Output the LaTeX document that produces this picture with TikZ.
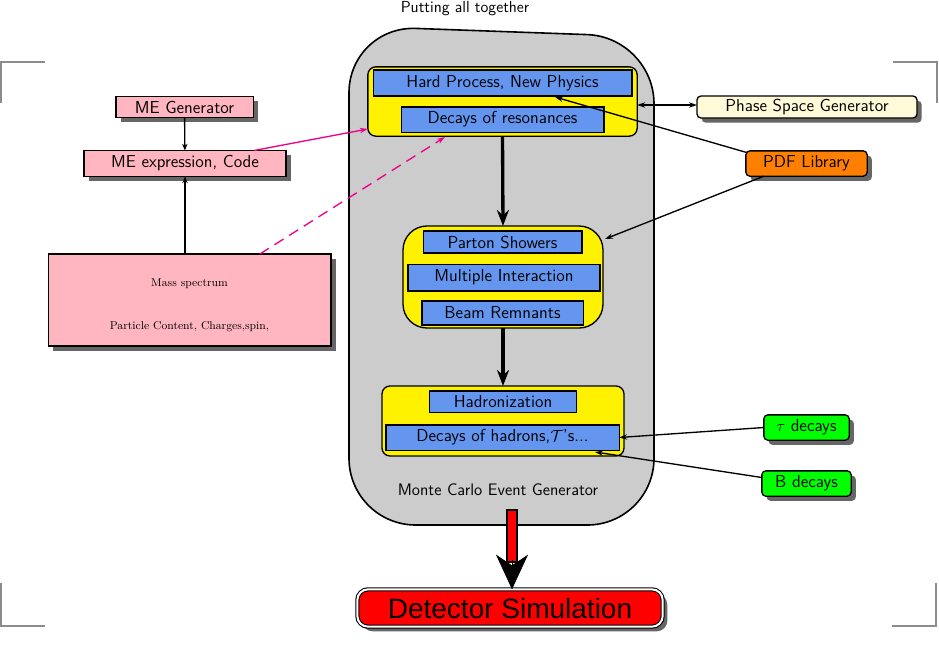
\documentclass[tikz,border=0pt]{standalone}
\usepackage{fontspec}
\newfontfamily\helv{Liberation Sans}
\usetikzlibrary{shadows,arrows.meta,calc}
\begin{document}
\begin{tikzpicture}[x=0.75pt,y=-0.75pt,
  every node/.style={inner sep=0pt,outer sep=0pt,font=\sffamily\fontsize{13}{15}\selectfont},
  blue/.style={draw,line width=1pt,fill=cyan!20!blue!40!white,fill=blue!35!cyan!50!white},
  bbox/.style={draw,line width=1pt,fill={rgb,255:red,100;green,150;blue,240}},
  ybox/.style={draw,line width=1pt,fill=yellow,rounded corners=6pt},
  shad/.style={drop shadow={shadow xshift=3.5pt,shadow yshift=-3.5pt,fill=black!75,opacity=0.8}},
  pink/.style={draw,line width=1pt,fill={rgb,255:red,255;green,182;blue,193},shad},
  side/.style={draw,line width=1pt,rounded corners=3pt,shad},
  barrow/.style={blue,line width=1pt,-{Stealth[length=6pt,width=4pt]}},
  corner/.style={black!45,line width=0.8pt}]
\useasboundingbox (0,0) rectangle (939,658);
% corner marks
\draw[corner] (45,62)--(1,62)--(1,103);
\draw[corner] (893,62)--(937,62)--(937,103);
\draw[corner] (1,583)--(1,626)--(45,626);
\draw[corner] (892,626)--(936,626)--(936,583);
\node (title) at (465,9) {\fontsize{12}{14}\selectfont Putting all together};
% big grey box
\draw[line width=1.2pt,fill=black!20,rounded corners=50pt] (349,525)--(349,26)--(654,37)--(654,525)--cycle;
\node (mc) at (498,490) {\fontsize{12.5}{14}\selectfont Monte Carlo Event Generator};
% yellow boxes
\node[ybox,minimum width=202pt,minimum height=52pt] (Y1) at (502.5,101.5) {};
\node[ybox,rounded corners=18pt,minimum width=150pt,minimum height=76.5pt] (Y2) at (503,277) {};
\node[ybox,minimum width=181.5pt,minimum height=52.5pt] (Y3) at (503,421) {};
% blue boxes
\node[bbox,minimum width=194pt,minimum height=19.5pt] (HP) at (502.5,83) {Hard Process, New Physics};
\node[bbox,minimum width=152pt,minimum height=19pt] (DR) at (502.5,119.5) {Decays of resonances};
\node[bbox,minimum width=119pt,minimum height=16.5pt] (PS) at (502.5,242) {Parton Showers};
\node[bbox,minimum width=144pt,minimum height=20pt] (MI) at (504,277.5) {Multiple Interaction};
\node[bbox,minimum width=121pt,minimum height=18pt] (BR) at (502.5,313) {Beam Remnants};
\node[bbox,minimum width=110pt,minimum height=16pt] (HD) at (503,401.5) {Hadronization};
\node[bbox,minimum width=175pt,minimum height=19pt] (DH) at (502.5,437.5) {Decays of hadrons,$\mathcal{T}$'s...};
% main arrows
\draw[line width=2.5pt,-{Stealth[length=12pt,width=9pt]}] (Y1.south) -- (Y2.north);
\draw[line width=2.5pt,-{Stealth[length=12pt,width=9pt]}] (Y2.south) -- (Y3.north);
% detector
\node[draw,line width=0.8pt,fill=red,rounded corners=8pt,double=white,double distance=1.5pt,minimum width=229pt,minimum height=28pt,shad] (DS) at (510,608) {\helv\fontsize{21}{24}\selectfont Detector Simulation};
\coordinate (rs) at (512,510);
\fill[red,draw=black,line width=0.8pt] (507,510) rectangle (517,562);
\draw[line width=0.5pt,-{Stealth[length=26pt,width=24pt,inset=8pt]}] (512,560) -- (DS.north -| rs);
% left side
\node[pink,minimum width=103pt,minimum height=16pt] (MEG) at (184.5,107) {ME Generator};
\node[pink,minimum width=151.5pt,minimum height=19.5pt] (MEE) at (185,163.5) {ME expression, Code};
\node[pink,minimum width=212pt,minimum height=69pt,font=\rmfamily\fontsize{8.5}{10}\selectfont] (MS) at (189.5,300) {};
\node[font=\rmfamily\fontsize{8.5}{10}\selectfont] (ms1) at (189.5,284) {Mass spectrum};
\node[font=\rmfamily\fontsize{8.5}{10}\selectfont] (ms2) at (189.5,327) {Particle Content, Charges,spin,};
\draw[line width=1pt,-{Stealth[length=5pt,width=4pt]}] (MEG) -- (MEE);
\draw[line width=1pt,-{Stealth[length=5pt,width=4pt]}] (MS.north -| MEE) -- (MEE.south);
\draw[magenta,line width=1pt,-{Stealth[length=6pt,width=4pt]}] (MEE.north east)++(-32,0) -- (Y1.west |- 0,129);
\draw[magenta,line width=1pt,dashed,dash pattern=on 8pt off 5pt,-{Stealth[length=6pt,width=4pt]}] (MS.north east)++(-71,0) -- (445,137);
% right side
\node[side,fill={rgb,255:red,255;green,250;blue,215},minimum width=165pt,minimum height=16.5pt] (PSG) at (807,107) {Phase Space Generator};
\node[side,fill=orange,minimum width=91pt,minimum height=19pt] (PDF) at (806.5,163.5) {PDF Library};
\node[side,fill=green,minimum width=64pt,minimum height=19pt] (TAU) at (806.5,427.5) {$\tau$ decays};
\node[side,fill=green,minimum width=67pt,minimum height=19pt] (BD) at (806.5,483.5) {B decays};
\draw[blue,line width=1pt,{Stealth[length=6pt,width=4pt]}-{Stealth[length=6pt,width=4pt]}] (Y1.east |- 0,105) -- (PSG.west |- 0,105);
\draw[barrow] (PDF.north west)++(2,2) -- (555,97);
\draw[barrow] (PDF.south west)++(18,0) -- (605,239);
\draw[barrow] (TAU.west) -- (DH.east);
\draw[barrow] (BD.west)++(0,-6) -- (595,452);
\end{tikzpicture}
\end{document}
